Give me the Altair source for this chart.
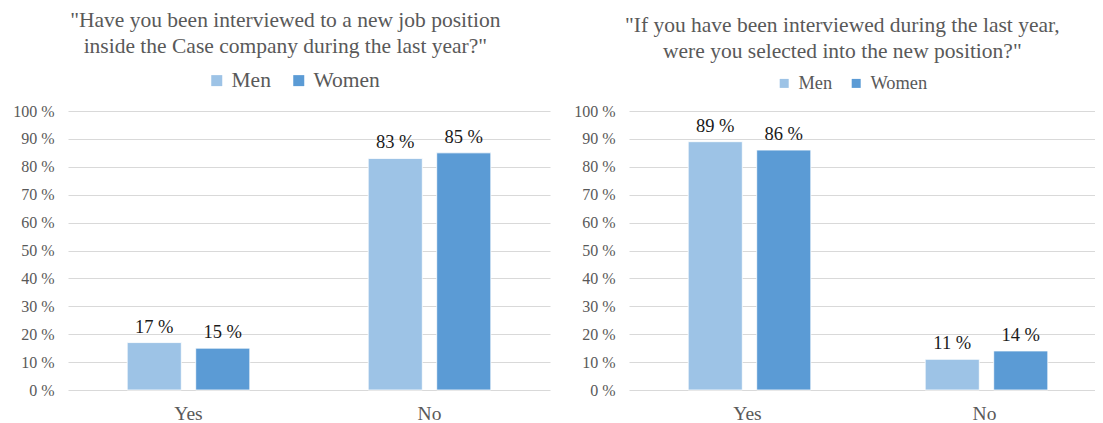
import altair as alt
import pandas as pd

# ---- data ----
categories = ["Yes", "No"]
genders = ["Men", "Women"]
q1_men = [17, 83]
q1_women = [15, 85]
q2_men = [89, 11]
q2_women = [86, 14]
y_ticks = [0, 10, 20, 30, 40, 50, 60, 70, 80, 90, 100]

title_left = ['"Have you been interviewed to a new job position',
              'inside the Case company during the last year?"']
title_right = ['"If you have been interviewed during the last year,',
               'were you selected into the new position?"']

COLORS = ["#9DC3E6", "#5B9BD5"]
FONT = "Liberation Serif"
GREY = "#595959"


def panel(men, women, title, width, pad_outer, legend_x, legend_y, legend_font,
          sym_size, label_offset, col_pad, title_dx):
    df = pd.DataFrame({
        "answer": categories * 2,
        "gender": ["Men"] * len(categories) + ["Women"] * len(categories),
        "value": men + women,
    })
    base = alt.Chart(df).transform_calculate(
        label="datum.value + ' %'"
    ).encode(
        x=alt.X("answer:N", sort=categories,
                scale=alt.Scale(paddingInner=0, paddingOuter=0),
                axis=alt.Axis(title=None, labelAngle=0, ticks=False, domain=False,
                              labelFontSize=19.5, labelColor=GREY, labelFont=FONT,
                              labelPadding=14)),
        xOffset=alt.XOffset("gender:N", sort=genders,
                            scale=alt.Scale(paddingInner=0.21, paddingOuter=pad_outer)),
        y=alt.Y("value:Q", scale=alt.Scale(domain=[0, 100], nice=False),
                axis=alt.Axis(title=None, values=y_ticks,
                              labelExpr="datum.value + ' %'",
                              ticks=False, domain=False, grid=True,
                              gridColor="#D9D9D9", gridWidth=1,
                              labelFontSize=16, labelColor=GREY, labelFont=FONT,
                              labelPadding=14)),
    )
    bars = base.mark_bar(stroke="white", strokeWidth=0.8).encode(
        color=alt.Color("gender:N", sort=genders,
                        scale=alt.Scale(domain=genders, range=COLORS),
                        legend=alt.Legend(orient="none", legendX=legend_x,
                                          legendY=legend_y, direction="horizontal",
                                          title=None, symbolType="square",
                                          symbolSize=sym_size, symbolStrokeWidth=0,
                                          labelFontSize=legend_font, labelFont=FONT,
                                          labelColor=GREY, labelOffset=label_offset,
                                          columnPadding=col_pad, padding=0)),
    )
    labels = base.mark_text(baseline="alphabetic", dy=-10, fontSize=18.5,
                            font=FONT, color="#1a1a1a").encode(
        text=alt.Text("label:N")
    )
    return alt.layer(bars, labels).properties(
        width=width, height=279,
        title=alt.TitleParams(text=title, anchor="middle", frame="bounds",
                              dx=title_dx, fontSize=21.5, font=FONT, color=GREY,
                              fontWeight="normal", lineHeight=26, offset=12),
    )


left = panel(q1_men, q1_women, title_left, 482, 0.864, 138, -41.5, 21.5, 121, 4, 17, 4)
right = panel(q2_men, q2_women, title_right, 474, 0.835, 146, -37, 18.4, 81, 5, 14, 4)

chart = alt.hconcat(left, right, spacing=23).resolve_legend(
    color="independent"
).properties(
    padding={"left": 4, "top": 2, "right": -8, "bottom": 0}
).configure(
    background="white", font=FONT
).configure_view(stroke=None)

chart.save("out.html", embed_options={"renderer": "svg", "actions": False})
